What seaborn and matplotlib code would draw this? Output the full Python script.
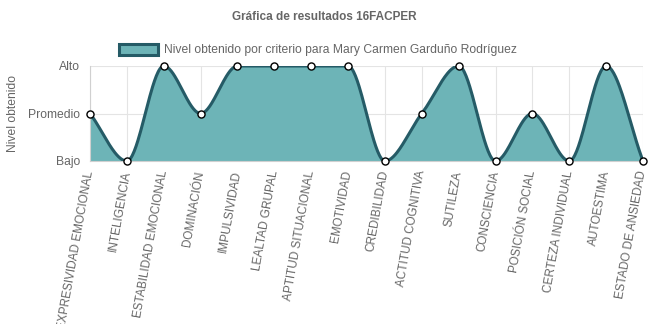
import numpy as np
import pandas as pd
import matplotlib
matplotlib.use("Agg")
import matplotlib.pyplot as plt
import seaborn as sns
from matplotlib.patches import Patch

categories = ["EXPRESIVIDAD EMOCIONAL", "INTELIGENCIA", "ESTABILIDAD EMOCIONAL",
              "DOMINACIÓN", "IMPULSIVIDAD", "LEALTAD GRUPAL", "APTITUD SITUACIONAL",
              "EMOTIVIDAD", "CREDIBILIDAD", "ACTITUD COGNITIVA", "SUTILEZA",
              "CONSCIENCIA", "POSICIÓN SOCIAL", "CERTEZA INDIVIDUAL", "AUTOESTIMA",
              "ESTADO DE ANSIEDAD"]
values = [1, 0, 2, 1, 2, 2, 2, 2, 0, 1, 2, 0, 1, 0, 2, 0]
level_labels = ["Bajo", "Promedio", "Alto"]
series_name = "Nivel obtenido por criterio para Mary Carmen Garduño Rodríguez"
title = "Gráfica de resultados 16FACPER"


def monotone_curve(y, n=40):
    y = np.asarray(y, float)
    N = len(y)
    x = np.arange(N, dtype=float)
    d = np.diff(y)
    m = np.zeros(N)
    m[0] = d[0]
    m[-1] = d[-1]
    for i in range(1, N - 1):
        if d[i - 1] * d[i] > 0:
            m[i] = (d[i - 1] + d[i]) / 2
        else:
            m[i] = 0.0
    for i in range(N - 1):
        if d[i] == 0:
            m[i] = m[i + 1] = 0.0
            continue
        a = m[i] / d[i]
        b = m[i + 1] / d[i]
        s = a * a + b * b
        if s > 9:
            t = 3 / np.sqrt(s)
            m[i] = t * a * d[i]
            m[i + 1] = t * b * d[i]
    xs, ys = [], []
    for i in range(N - 1):
        t = np.linspace(0, 1, n, endpoint=(i == N - 2))
        h00 = 2 * t**3 - 3 * t**2 + 1
        h10 = t**3 - 2 * t**2 + t
        h01 = -2 * t**3 + 3 * t**2
        h11 = t**3 - t**2
        xs.append(x[i] + t)
        ys.append(h00 * y[i] + h10 * m[i] + h01 * y[i + 1] + h11 * m[i + 1])
    return np.concatenate(xs), np.concatenate(ys)


sns.set_theme(style="white")
plt.rcParams["font.family"] = ["Liberation Sans", "DejaVu Sans"]

fill_c = "#6db4b7"
line_c = "#255b66"
text_c = "#666666"

fig = plt.figure(figsize=(6.48, 3.24), dpi=100)
ax = fig.add_axes([90 / 648, 1 - 161 / 324, 553 / 648, 95 / 324])

df = pd.DataFrame({"cat": np.arange(len(categories)), "val": values})
cx, cy = monotone_curve(values)
ax.fill_between(cx, 0, cy, color=fill_c, alpha=1.0, lw=0, zorder=1)
sns.lineplot(x=cx, y=cy, ax=ax, color=line_c, lw=2.2, zorder=3)
sns.scatterplot(data=df, x="cat", y="val", ax=ax, s=26, color="white",
                edgecolor="black", linewidth=1.0, zorder=4, clip_on=False)

ax.set_xlim(0, len(categories) - 1)
ax.set_ylim(0, 2)
ax.set_xticks(np.arange(len(categories)))
ax.set_xticklabels(categories, rotation=80, ha="right", va="center",
                   rotation_mode="anchor", fontsize=8.5, color=text_c)
ax.set_yticks([0, 1, 2])
ax.set_yticklabels(level_labels, fontsize=8.7, color=text_c)
ax.set_xlabel("")
ax.set_ylabel("Nivel obtenido", fontsize=8.7, color=text_c)
ax.yaxis.set_label_coords((19 - 90) / 553, 0.5)
ax.grid(True, color="#e4e4e4", lw=0.8, zorder=0)
ax.set_axisbelow(True)
for s in ["top", "right"]:
    ax.spines[s].set_visible(False)
for s in ["left", "bottom"]:
    ax.spines[s].set_color("#d0d0d0")
    ax.spines[s].set_linewidth(0.8)
ax.tick_params(axis="both", length=5, width=0.8, color="#d0d0d0", pad=2)

fig.text(0.5, 1 - 17 / 324, title, ha="center", va="center",
         fontsize=8.5, fontweight="bold", color=text_c)
handle = Patch(facecolor=fill_c, edgecolor=line_c, linewidth=2.2)
fig.legend([handle], [series_name], loc="center", bbox_to_anchor=(318 / 648, 1 - 50 / 324),
           frameon=False, fontsize=8.7, labelcolor=text_c, handlelength=3.2,
           handleheight=1.0, handletextpad=0.5)

fig.savefig("out.png", dpi=100)
